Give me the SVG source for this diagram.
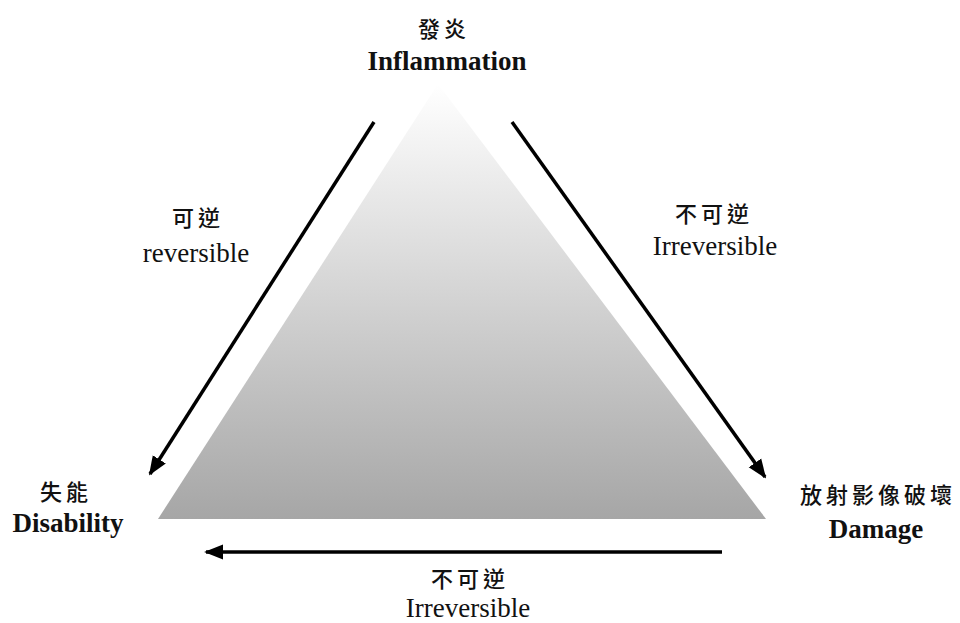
<svg xmlns="http://www.w3.org/2000/svg" width="960" height="623" viewBox="0 0 960 623">
<style>
.en{font-family:"Liberation Serif","Times New Roman",serif;font-size:27px;fill:#111;text-anchor:middle}
.b{font-weight:bold}
.zh{font-family:"Noto Sans CJK TC","Noto Sans CJK SC",sans-serif;font-size:22px;font-weight:500;fill:#111;text-anchor:middle;letter-spacing:4px}
.arr{stroke:#000;stroke-width:3.5;fill:none;marker-end:url(#ah)}
</style>
<defs>
<linearGradient id="g" x1="0" y1="0" x2="0" y2="1">
<stop offset="0" stop-color="#ffffff"/>
<stop offset="1" stop-color="#a6a6a6"/>
</linearGradient>
<marker id="ah" viewBox="0 0 10 10" refX="9" refY="5" markerWidth="5.5" markerHeight="5.5" markerUnits="strokeWidth" orient="auto">
<path d="M0,1 L10,5 L0,9 Z" fill="#000"/>
</marker>
</defs>
<rect width="960" height="623" fill="#fff"/>
<g id="triangle"><polygon points="438,84 158,519 766,519" fill="url(#g)"/></g>
<g id="inflammation"><text class="zh" x="444" y="37">發炎</text><text class="en b" x="447" y="70">Inflammation</text></g>
<g id="disability"><text class="zh" x="66" y="500">失能</text><text class="en b" x="68" y="532">Disability</text></g>
<g id="damage"><text class="zh" x="878" y="503">放射影像破壞</text><text class="en b" x="876" y="538">Damage</text></g>
<g id="connectors">
<line class="arr" x1="374" y1="122" x2="150" y2="474"/>
<line class="arr" x1="512" y1="122" x2="765" y2="477"/>
<line class="arr" x1="722" y1="552" x2="206" y2="552"/>
</g>
<g id="labels">
<text class="zh" x="198" y="226">可逆</text><text class="en" x="196" y="262">reversible</text>
<text class="zh" x="714" y="222">不可逆</text><text class="en" x="715" y="255">Irreversible</text>
<text class="zh" x="470" y="587">不可逆</text><text class="en" x="468" y="617">Irreversible</text>
</g>
</svg>
